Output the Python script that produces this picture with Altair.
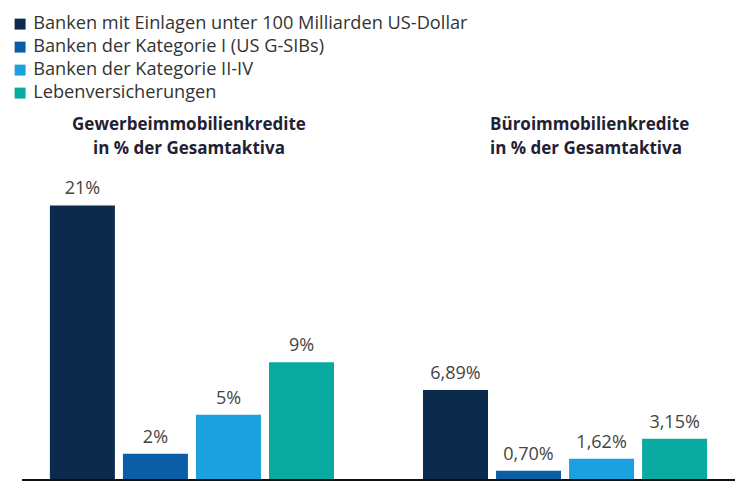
import altair as alt
import pandas as pd

groups = ["Gewerbeimmobilienkredite|in % der Gesamtaktiva",
          "Büroimmobilienkredite|in % der Gesamtaktiva"]
series = ["Banken mit Einlagen unter 100 Milliarden US-Dollar",
          "Banken der Kategorie I (US G-SIBs)",
          "Banken der Kategorie II-IV",
          "Lebenversicherungen"]
colors = ["#0c2a4b", "#0b5ea6", "#1ba0e0", "#09aaa0"]
values_gewerbe = [21, 2, 5, 9]
values_buero = [6.89, 0.70, 1.62, 3.15]
labels_gewerbe = ["21%", "2%", "5%", "9%"]
labels_buero = ["6,89%", "0,70%", "1,62%", "3,15%"]

rows = []
for s, v, l in zip(series, values_gewerbe, labels_gewerbe):
    rows.append({"group": groups[0], "series": s, "value": v, "label": l})
for s, v, l in zip(series, values_buero, labels_buero):
    rows.append({"group": groups[1], "series": s, "value": v, "label": l})
df = pd.DataFrame(rows)

FONT = "Open Sans"
second_test = "datum.index == 1"

x = alt.X("group:N", sort=groups,
          scale=alt.Scale(paddingInner=0.217, paddingOuter=0.064),
          axis=alt.Axis(orient="top", title=None, ticks=False, domain=False,
                        labelAngle=0, labelFont=FONT, labelFontSize=17,
                        labelFontWeight="bold", labelColor="#1f2233",
                        labelPadding=28, labelLineHeight=24, labelLimit=1000,
                        labelAlign={"condition": {"test": second_test, "value": "left"},
                                    "value": "center"},
                        labelOffset={"condition": {"test": second_test, "value": -75},
                                     "value": -3},
                        labelExpr="split(datum.label, '|')"))
xo = alt.XOffset("series:N", sort=series,
                 scale=alt.Scale(paddingInner=0.11, paddingOuter=0.055))
y = alt.Y("value:Q", scale=alt.Scale(domain=[0, 24.4], nice=False), axis=None)

bars = alt.Chart(df).mark_bar().encode(
    x=x, xOffset=xo, y=y,
    color=alt.Color("series:N", sort=series,
                    scale=alt.Scale(domain=series, range=colors),
                    legend=alt.Legend(title=None, orient="none", legendX=-11, legendY=-146,
                                      direction="vertical", symbolType="square",
                                      symbolSize=120, symbolStrokeWidth=0,
                                      labelFont=FONT, labelFontSize=18.2, labelColor="#333333",
                                      labelOffset=4, rowPadding=4, labelLimit=600)),
)

text = alt.Chart(df).mark_text(baseline="alphabetic", dy=-11, font=FONT, fontSize=18,
                               color="#444444").encode(
    x=x, xOffset=xo, y=y, text="label:N")

base = alt.Chart(df).mark_rule(color="#111111", strokeWidth=1.5).encode(y=alt.datum(0))

chart = alt.layer(bars, text, base).properties(
    width=713, height=319,
    padding={"left": 3, "top": 7, "right": 5, "bottom": 5},
).configure_view(stroke=None)

chart.save("out.html", embed_options={"renderer": "svg", "actions": False})
